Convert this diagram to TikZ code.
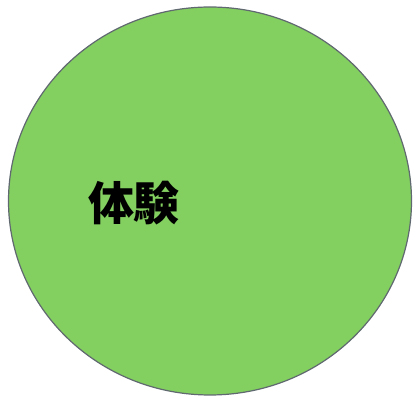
\documentclass[tikz,border=0pt]{standalone}
\usepackage{fontspec}
\newfontfamily\cjk{Noto Sans CJK JP}
\usetikzlibrary{shapes.geometric}
\definecolor{leaf}{RGB}{131,207,96}
\definecolor{rim}{RGB}{96,104,112}

\begin{document}
\begin{tikzpicture}[x=1pt, y=1pt, main/.style = {draw=rim, fill=leaf, line width=1.2pt, ellipse, inner sep=0pt}, word/.style = {font=\cjk\bfseries\fontsize{46}{50}\selectfont}]
        \useasboundingbox (0,0) rectangle (413,396);
        \node[main, minimum width=403pt, minimum height=388pt] (exp) at (210,195) {};
        \node[word] (lbl) at (134,193) {体験};
    \end{tikzpicture}
\end{document}
